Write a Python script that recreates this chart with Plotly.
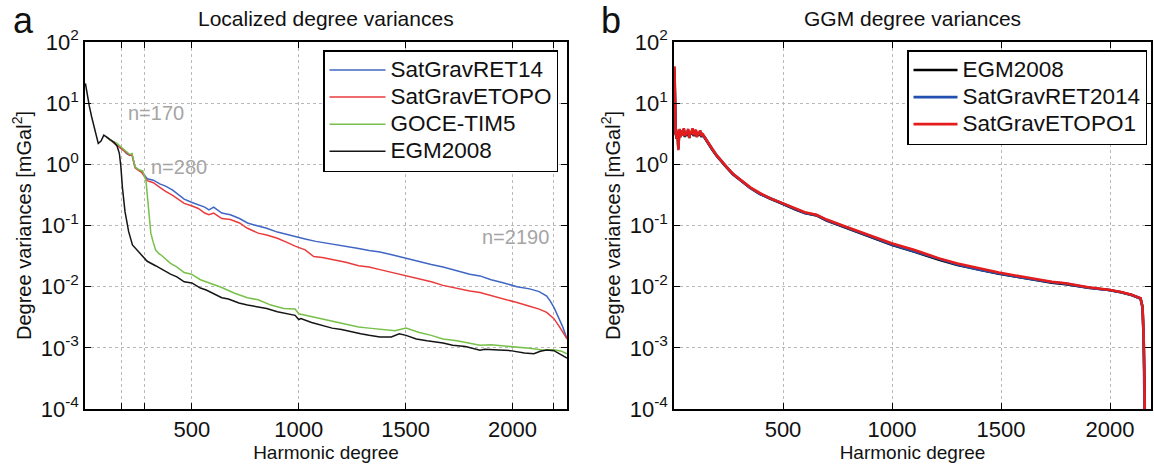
import plotly.graph_objects as go

# ---------------- Panel a: localized degree variances ----------------
a_egm_x = [2, 10, 20, 31, 45, 62, 75, 88, 100, 118, 135, 150, 161, 168, 175, 187, 204, 222, 256, 291,
           330, 360, 400, 430, 464, 500, 540, 567, 610, 640, 671, 720, 760, 810, 850, 900, 950, 983,
           1000, 1010, 1060, 1100, 1156, 1200, 1250, 1290, 1329, 1380, 1433, 1470, 1502, 1550, 1600,
           1675, 1720, 1780, 1848, 1870, 1935, 1990, 2056, 2100, 2130, 2160, 2194, 2220, 2255]
a_egm_y = [21, 14, 9, 6, 3.6, 2.2, 2.4, 3.0, 2.8, 2.5, 2.3, 2.0, 1.5, 0.9, 0.42, 0.17, 0.08, 0.048,
           0.036, 0.026, 0.022, 0.019, 0.016, 0.0145, 0.012, 0.0115, 0.0095, 0.0088, 0.0075, 0.0066,
           0.0063, 0.0054, 0.0050, 0.0047, 0.0044, 0.0039, 0.0036, 0.0034, 0.0029, 0.0030, 0.0026,
           0.0024, 0.0021, 0.0020, 0.0018, 0.0017, 0.0016, 0.0015, 0.0015, 0.0017, 0.0016, 0.0014,
           0.0013, 0.0012, 0.0011, 0.00105, 0.00091, 0.00095, 0.00092, 0.00090, 0.00082, 0.00080,
           0.00088, 0.00092, 0.00090, 0.00080, 0.00068]

a_goce_x = [100, 118, 135, 150, 170, 195, 210, 220, 234, 250, 270, 285, 292, 300, 308, 318, 330, 345,
            360, 400, 429, 464, 498, 540, 600, 637, 700, 760, 810, 870, 930, 983, 1000, 1050, 1100,
            1156, 1220, 1280, 1329, 1400, 1450, 1502, 1560, 1620, 1675, 1740, 1800, 1848, 1900, 1960,
            2021, 2080, 2140, 2194, 2230, 2255]
a_goce_y = [2.8, 2.5, 2.35, 2.2, 1.9, 1.6, 1.45, 1.5, 0.9, 0.82, 0.78, 0.55, 0.28, 0.12, 0.075, 0.055,
            0.04, 0.035, 0.032, 0.024, 0.021, 0.017, 0.016, 0.013, 0.011, 0.0098, 0.0078, 0.0066,
            0.0061, 0.0050, 0.0044, 0.0043, 0.0036, 0.0033, 0.0030, 0.0027, 0.0024, 0.0022, 0.0021,
            0.0020, 0.0019, 0.0021, 0.0018, 0.0016, 0.0014, 0.0013, 0.0012, 0.0011, 0.00112, 0.00108,
            0.00104, 0.00098, 0.00092, 0.00093, 0.00088, 0.00080]

a_ret_x = [100, 118, 140, 165, 180, 195, 210, 220, 234, 250, 265, 291, 320, 350, 377, 410, 440, 464,
           498, 530, 560, 580, 602, 640, 680, 723, 760, 810, 850, 900, 950, 983, 1030, 1080, 1156,
           1220, 1280, 1329, 1380, 1440, 1502, 1560, 1620, 1675, 1740, 1800, 1848, 1900, 1960, 2021,
           2080, 2125, 2160, 2177, 2195, 2212, 2235, 2255]
a_ret_y = [2.8, 2.5, 2.2, 1.9, 1.7, 1.5, 1.4, 1.45, 0.9, 0.82, 0.76, 0.58, 0.55, 0.48, 0.44, 0.38,
           0.31, 0.27, 0.24, 0.22, 0.20, 0.18, 0.20, 0.16, 0.15, 0.13, 0.11, 0.098, 0.09, 0.078, 0.07,
           0.065, 0.06, 0.055, 0.05, 0.046, 0.042, 0.039, 0.037, 0.033, 0.029, 0.026, 0.023, 0.021,
           0.018, 0.016, 0.015, 0.013, 0.0115, 0.010, 0.0092, 0.0083, 0.0070, 0.0058, 0.0045, 0.0033,
           0.0022, 0.0014]

a_etopo_x = [100, 118, 140, 165, 180, 195, 210, 220, 234, 250, 265, 291, 320, 350, 377, 410, 440, 464,
             498, 530, 560, 580, 602, 640, 680, 723, 760, 810, 850, 900, 950, 983, 1030, 1070, 1110,
             1156, 1220, 1280, 1329, 1380, 1440, 1502, 1560, 1620, 1675, 1740, 1800, 1848, 1900, 1960,
             2021, 2080, 2125, 2160, 2194, 2220, 2255]
a_etopo_y = [2.8, 2.5, 2.2, 1.9, 1.7, 1.55, 1.4, 1.45, 0.88, 0.8, 0.74, 0.54, 0.5, 0.42, 0.36, 0.31,
             0.26, 0.23, 0.21, 0.19, 0.16, 0.15, 0.16, 0.13, 0.125, 0.11, 0.09, 0.075, 0.07, 0.062,
             0.052, 0.046, 0.040, 0.031, 0.030, 0.028, 0.025, 0.022, 0.021, 0.019, 0.017, 0.015,
             0.0135, 0.012, 0.0105, 0.0093, 0.0085, 0.0080, 0.0072, 0.0063, 0.0055, 0.0048, 0.0043,
             0.0038, 0.0030, 0.0022, 0.0014]

# ---------------- Panel b: GGM degree variances ----------------
b_x = [2, 4, 6, 8, 10, 12, 15, 18, 20, 23, 26, 30, 35, 40, 45, 50, 55, 60, 65, 70, 75, 80, 85, 90,
       95, 100, 105, 110, 115, 120, 125, 130, 140, 157, 175, 196, 220, 242, 270, 290, 316, 350, 393,
       440, 500, 560, 600, 653, 700, 773, 850, 920, 1001, 1100, 1216, 1300, 1400, 1490, 1600, 1733,
       1797, 1900, 1994, 2050, 2099, 2140, 2149, 2154, 2158, 2162]
b_etopo_y = [40, 18, 6, 3.0, 3.8, 2.6, 3.5, 2.5, 1.7, 3.0, 3.8, 2.8, 3.6, 3.0, 3.9, 2.9, 3.4, 3.1, 3.8,
             2.7, 3.5, 3.2, 3.9, 3.0, 3.3, 3.7, 2.8, 3.4, 3.1, 3.6, 2.9, 3.2, 2.8, 2.2, 1.8, 1.4, 1.1,
             0.9, 0.7, 0.62, 0.52, 0.42, 0.34, 0.28, 0.23, 0.185, 0.165, 0.15, 0.125, 0.10, 0.08,
             0.065, 0.051, 0.040, 0.029, 0.024, 0.020, 0.017, 0.0145, 0.012, 0.0114, 0.0098, 0.0089,
             0.0082, 0.0074, 0.0065, 0.0047, 0.0017, 0.0003, 0.00001]
b_ret_y = [38, 17, 6, 3.1, 3.7, 2.7, 3.4, 2.6, 1.8, 3.0, 3.7, 2.9, 3.5, 3.1, 3.8, 2.9, 3.3, 3.1, 3.7,
           2.8, 3.4, 3.2, 3.8, 3.0, 3.3, 3.6, 2.9, 3.3, 3.1, 3.5, 2.9, 3.1, 2.8, 2.2, 1.8, 1.4, 1.1,
           0.9, 0.7, 0.61, 0.51, 0.41, 0.33, 0.28, 0.225, 0.18, 0.16, 0.148, 0.122, 0.098, 0.078,
           0.063, 0.049, 0.038, 0.028, 0.023, 0.019, 0.0165, 0.014, 0.0118, 0.0112, 0.0096, 0.0088,
           0.0081, 0.0073, 0.0064, 0.0046, 0.0016, 0.0003, 0.00001]
b_egm_y = [30, 15, 6, 3.0, 3.5, 2.6, 3.3, 2.5, 1.8, 2.9, 3.6, 2.8, 3.4, 3.0, 3.7, 2.8, 3.3, 3.0, 3.6,
           2.7, 3.3, 3.1, 3.7, 2.9, 3.2, 3.5, 2.8, 3.3, 3.0, 3.4, 2.8, 3.1, 2.75, 2.15, 1.75, 1.37, 1.08,
           0.88, 0.69, 0.61, 0.51, 0.41, 0.33, 0.275, 0.225, 0.18, 0.16, 0.146, 0.121, 0.096, 0.076,
           0.061, 0.048, 0.0375, 0.0275, 0.0227, 0.019, 0.0163, 0.014, 0.0116, 0.011, 0.0096, 0.0088,
           0.0081, 0.0073, 0.0064, 0.0046, 0.0016, 0.0003, 0.00001]

a_names = ["SatGravRET14", "SatGravETOPO", "GOCE-TIM5", "EGM2008"]
b_names = ["EGM2008", "SatGravRET2014", "SatGravETOPO1"]
y_tickvals = [1e-4, 1e-3, 1e-2, 1e-1, 1, 10, 100]
y_ticktext = ["10<sup>-4</sup>", "10<sup>-3</sup>", "10<sup>-2</sup>", "10<sup>-1</sup>",
              "10<sup>0</sup>", "10<sup>1</sup>", "10<sup>2</sup>"]
a_xtickvals = [170, 280, 500, 1000, 1500, 2000, 2190]
a_xticktext = ["", "", "500", "1000", "1500", "2000", ""]
b_xtickvals = [500, 1000, 1500, 2000]
b_xticktext = ["500", "1000", "1500", "2000"]
annot_text = ["n=170", "n=280", "n=2190"]
annot_x = [190, 300, 1846]
annot_ylog = [0.84, -0.04, -1.19]

FONT = "Liberation Sans, Arial, sans-serif"
W, H = 1154, 464

def leg_label(s):
    return '<span style="font-size:22.5px">' + s + '</span>'

fig = go.Figure()
a_series = [(a_ret_x, a_ret_y, "#4066c4"), (a_etopo_x, a_etopo_y, "#ea3b3b"),
            (a_goce_x, a_goce_y, "#78c04a"), (a_egm_x, a_egm_y, "#151515")]
for name, (xs, ys, col) in zip(a_names, a_series):
    fig.add_trace(go.Scatter(x=xs, y=ys, mode="lines", name=leg_label(name),
                             line=dict(color=col, width=1.5),
                             xaxis="x", yaxis="y", legend="legend"))
b_series = [(b_egm_y, "#000000"), (b_ret_y, "#2150b0"), (b_etopo_y, "#e41c1c")]
for name, (ys, col) in zip(b_names, b_series):
    fig.add_trace(go.Scatter(x=b_x, y=ys, mode="lines", name=leg_label(name),
                             line=dict(color=col, width=2.6),
                             xaxis="x2", yaxis="y2", legend="legend2"))

def px_x(p):
    return p / W

def px_y(p):
    return 1 - p / H

ydom = [px_y(409), px_y(42)]
common_axis = dict(showline=True, linecolor="black", linewidth=1.5, mirror="allticks",
                   ticks="inside", ticklen=6, tickcolor="black", tickwidth=1.2, automargin=False,
                   showgrid=True, gridcolor="#b8b8b8", griddash="dot", gridwidth=1,
                   zeroline=False, tickfont=dict(family=FONT, size=22, color="#111"))
yaxis_common = dict(common_axis, type="log", range=[-4, 2], tickvals=y_tickvals, ticktext=y_ticktext,
                    title=dict(text="Degree variances [mGal<sup>2</sup>]",
                               font=dict(family=FONT, size=20, color="#111"), standoff=4))
xtitle = dict(text="Harmonic degree", font=dict(family=FONT, size=19, color="#111"), standoff=2)

fig.update_layout(
    width=W, height=H, margin=dict(l=0, r=0, t=0, b=0, autoexpand=False),
    paper_bgcolor="white", plot_bgcolor="white",
    font=dict(family=FONT, color="#111"),
    xaxis=dict(common_axis, domain=[px_x(85), px_x(567)], range=[0, 2255],
               tickvals=a_xtickvals, ticktext=a_xticktext, anchor="y", title=xtitle),
    yaxis=dict(yaxis_common, domain=ydom, anchor="x"),
    xaxis2=dict(common_axis, domain=[px_x(674), px_x(1151)], range=[0, 2188],
                tickvals=b_xtickvals, ticktext=b_xticktext, anchor="y2", title=xtitle),
    yaxis2=dict(yaxis_common, domain=ydom, anchor="x2"),
    legend=dict(x=px_x(558), y=px_y(50), xanchor="right", yanchor="top",
                bordercolor="black", borderwidth=1.5, bgcolor="white", itemwidth=56,
                font=dict(family=FONT, size=18.5, color="#111"), tracegroupgap=0),
    legend2=dict(x=px_x(1147), y=px_y(50), xanchor="right", yanchor="top",
                 bordercolor="black", borderwidth=1.5, bgcolor="white", itemwidth=44,
                 font=dict(family=FONT, size=18.5, color="#111"), tracegroupgap=0),
    showlegend=True,
)

for t, xv, yv in zip(annot_text, annot_x, annot_ylog):
    fig.add_annotation(x=xv, y=yv, xref="x", yref="y", text=t, showarrow=False,
                       xanchor="left", yanchor="middle",
                       font=dict(family=FONT, size=20, color="#a5a5a5"))

# titles and panel letters
fig.add_annotation(x=px_x(326), y=px_y(19), xref="paper", yref="paper", text="Localized degree variances",
                   showarrow=False, xanchor="center", yanchor="middle", font=dict(family=FONT, size=21, color="#111"))
fig.add_annotation(x=px_x(912), y=px_y(19), xref="paper", yref="paper", text="GGM degree variances",
                   showarrow=False, xanchor="center", yanchor="middle", font=dict(family=FONT, size=21, color="#111"))
fig.add_annotation(x=px_x(11), y=px_y(20), xref="paper", yref="paper", text="a",
                   showarrow=False, xanchor="left", yanchor="middle", font=dict(family=FONT, size=36, color="#111"))
fig.add_annotation(x=px_x(599), y=px_y(20), xref="paper", yref="paper", text="b",
                   showarrow=False, xanchor="left", yanchor="middle", font=dict(family=FONT, size=36, color="#111"))

fig.write_html("out.html", config={"displayModeBar": False},
               post_script="document.body.style.margin='0';document.body.style.overflow='hidden';")
